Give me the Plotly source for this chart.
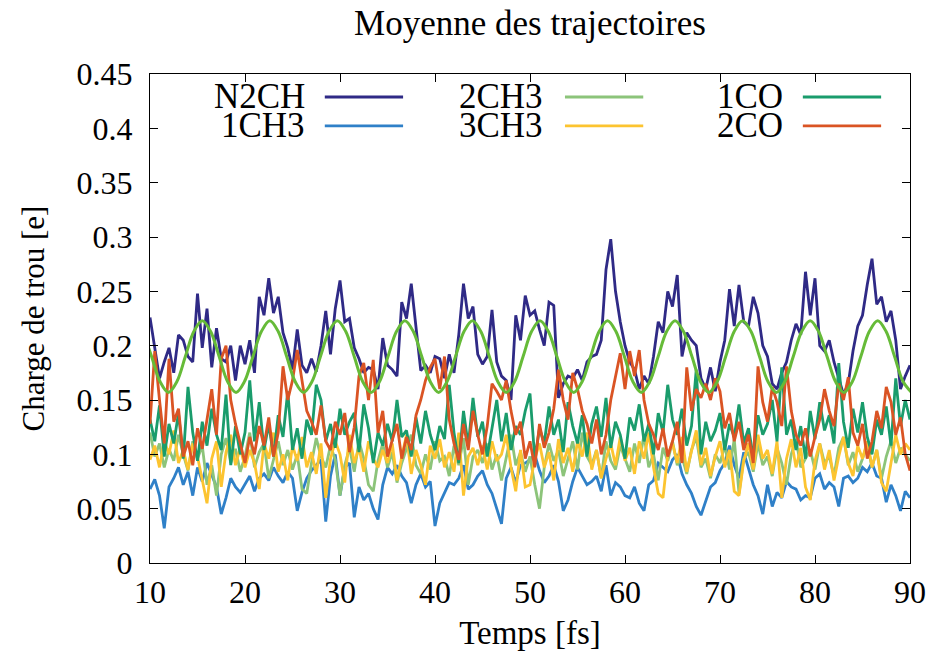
import numpy as np
import plotly.graph_objects as go

# time grid of the noisy curves: 10 -> 90 fs, step 0.5 fs (161 points)
t_start, t_step = 10.0, 0.5

# hole charges in units of 1e-3 e, one row = 5 fs
n2ch = [
    226, 200, 170, 185, 198, 175, 210, 205, 190, 185,
    248, 198, 234, 180, 216, 188, 185, 200, 168, 200,
    183, 205, 175, 245, 228, 262, 230, 245, 212, 198,
    178, 215, 182, 175, 188, 176, 200, 232, 192, 234,
    260, 222, 225, 198, 188, 175, 180, 178, 160, 207,
    182, 178, 172, 240, 225, 257, 215, 177, 182, 175,
    190, 188, 170, 192, 175, 210, 257, 225, 236, 192,
    183, 190, 233, 185, 172, 168, 150, 228, 205, 246,
    228, 232, 215, 200, 240, 237, 152, 165, 172, 170,
    178, 168, 185, 190, 192, 205, 270, 298, 250, 222,
    200, 185, 178, 160, 172, 165, 190, 222, 212, 250,
    236, 265, 190, 212, 205, 200, 170, 160, 180, 158,
    185, 205, 252, 218, 256, 222, 218, 245, 230, 200,
    190, 165, 160, 175, 185, 205, 220, 210, 268, 228,
    262, 200, 195, 205, 185, 170, 155, 165, 195, 218,
    228, 256, 280, 238, 245, 222, 232, 205, 160, 172,
    182,
]
ch3_1 = [
    68, 77, 62, 32, 70, 78, 88, 72, 84, 62,
    88, 75, 92, 80, 70, 45, 60, 78, 70, 65,
    72, 80, 66, 78, 82, 76, 88, 80, 74, 84,
    78, 48, 65, 78, 85, 90, 95, 38, 80, 100,
    62, 88, 92, 42, 70, 58, 64, 50, 40, 72,
    88, 82, 90, 80, 74, 55, 72, 82, 70, 75,
    34, 55, 64, 74, 72, 78, 90, 68, 72, 80,
    85, 72, 64, 50, 36, 78, 88, 74, 90, 92,
    95, 100, 85, 74, 80, 90, 75, 48, 58, 75,
    88, 80, 72, 75, 80, 66, 90, 62, 74, 70,
    62, 60, 70, 55, 48, 72, 76, 92, 88, 84,
    95, 100, 82, 72, 64, 52, 44, 56, 70, 74,
    85, 92, 108, 90, 78, 102, 88, 72, 62, 45,
    72, 52, 65, 60, 75, 70, 68, 58, 62, 60,
    78, 82, 68, 74, 70, 52, 78, 80, 74, 78,
    88, 84, 92, 80, 78, 56, 72, 62, 48, 66,
    60,
]
ch3_2 = [
    120, 98, 110, 88, 105, 94, 118, 100, 85, 112,
    96, 108, 72, 90, 62, 100, 115, 92, 105, 84,
    98, 120, 88, 102, 110, 78, 95, 112, 90, 104,
    86, 100, 68, 64, 92, 115, 98, 88, 108, 95,
    62, 90, 106, 84, 112, 96, 72, 66, 94, 110,
    88, 102, 74, 92, 105, 118, 90, 82, 100, 86,
    112, 94, 98, 80, 108, 90, 115, 72, 98, 104,
    92, 110, 86, 100, 76, 96, 118, 90, 102, 84,
    98, 72, 50, 88, 110, 94, 104, 80, 96, 112,
    86, 120, 98, 90, 104, 78, 112, 94, 86, 108,
    96, 84, 110, 92, 118, 88, 100, 76, 106, 94,
    112, 90, 98, 82, 104, 116, 88, 96, 78, 100,
    92, 108, 86, 114, 64, 96, 102, 84, 110, 90,
    98, 80, 106, 92, 72, 100, 114, 88, 96, 104,
    86, 110, 92, 98, 80, 106, 116, 90, 102, 84,
    96, 110, 88, 104, 78, 98, 112, 92, 106, 100,
    94,
]
ch3_3 = [
    95, 108, 88, 112, 100, 122, 92, 104, 86, 110,
    98, 78, 55, 96, 112, 70, 102, 118, 90, 106,
    88, 104, 92, 68, 110, 96, 120, 84, 100, 76,
    108, 94, 116, 88, 102, 82, 110, 60, 96, 112,
    100, 74, 118, 92, 106, 84, 112, 96, 88, 104,
    92, 110, 76, 98, 118, 82, 104, 90, 72, 108,
    96, 114, 88, 102, 84, 120, 62, 98, 106, 90,
    108, 86, 112, 94, 100, 118, 88, 66, 104, 70,
    72, 96, 110, 88, 102, 76, 114, 92, 106, 84,
    112, 98, 120, 86, 104, 78, 96, 110, 90, 116,
    94, 106, 82, 112, 96, 120, 88, 64, 60, 100,
    110, 92, 116, 84, 104, 122, 90, 106, 80, 98,
    112, 88, 104, 66, 62, 94, 110, 86, 118, 96,
    104, 82, 112, 60, 96, 114, 88, 106, 70, 58,
    94, 110, 86, 104, 76, 98, 116, 92, 80, 108,
    96, 112, 88, 104, 74, 66, 92, 118, 100, 110,
    104,
]
co_1 = [
    132, 112, 145, 98, 128, 110, 138, 96, 162, 120,
    94, 130, 108, 142, 118, 104, 155, 90, 126, 100,
    120, 168, 112, 148, 104, 128, 98, 136, 116, 158,
    104, 124, 96, 132, 118, 164, 150, 112, 128, 106,
    142, 118, 130, 138, 102, 146, 124, 92, 120, 108,
    128, 112, 150, 116, 122, 98, 134, 110, 140, 118,
    104, 126, 114, 164, 120, 92, 140, 108, 152, 116,
    130, 98, 124, 150, 112, 138, 104, 126, 118, 140,
    156, 96, 124, 110, 144, 118, 132, 102, 148, 126,
    110, 136, 98, 128, 144, 116, 152, 106, 130, 118,
    96, 134, 122, 146, 112, 128, 100, 138, 120, 164,
    132, 118, 142, 108, 126, 178, 100, 130, 112, 122,
    138, 104, 128, 116, 146, 110, 124, 98, 136, 118,
    128, 150, 112, 180, 118, 132, 104, 126, 96, 140,
    114, 148, 122, 136, 110, 184, 130, 106, 142, 120,
    148, 116, 100, 132, 118, 144, 108, 170, 126, 150,
    132,
]
co_2 = [
    128, 195, 150, 110, 188, 130, 142, 98, 112, 90,
    124, 105, 132, 160, 118, 188, 200, 150, 128, 110,
    92, 116, 100, 126, 108, 134, 98, 120, 181, 150,
    168, 196, 170, 140, 130, 118, 145, 112, 104, 130,
    118, 138, 102, 125, 172, 184, 150, 187, 120, 140,
    98, 112, 128, 96, 116, 104, 136, 150, 168, 180,
    188, 160, 190, 132, 110, 95, 128, 104, 140, 118,
    100, 126, 165, 158, 150, 168, 140, 118, 130, 96,
    112, 88, 128, 106, 120, 142, 178, 150, 132, 175,
    160, 140, 128, 110, 132, 100, 118, 150, 172, 193,
    160, 195, 172, 196, 150, 128, 118, 104, 124, 98,
    112, 130, 92, 180, 140, 160, 152, 165, 150, 170,
    158, 124, 138, 112, 130, 104, 118, 92, 181, 148,
    130, 162, 148, 126, 181, 140, 118, 108, 124, 98,
    116, 132, 160, 140, 126, 165, 150, 171, 120, 108,
    128, 96, 112, 140, 124, 162, 148, 118, 134, 100,
    85,
]

# smooth oscillating curve, read every eighth of its 7.11 fs period
wave_t0, wave_step = 15.5 - 7 * 7.11 / 8, 7.11 / 8
wave = [
    213, 190, 167, 157, 167, 190, 213, 223,
    213, 190, 167, 157, 167, 190, 213, 223,
    213, 190, 167, 157, 167, 190, 213, 223,
    213, 190, 167, 157, 167, 190, 213, 223,
    213, 190, 167, 157, 167, 190, 213, 223,
    213, 190, 167, 157, 167, 190, 213, 223,
    213, 190, 167, 157, 167, 190, 213, 223,
    213, 190, 167, 157, 167, 190, 213, 223,
    213, 190, 167, 157, 167, 190, 213, 223,
    213, 190, 167, 157, 167, 190, 213, 223,
    213, 190, 167, 157, 167, 190, 213, 223,
    213, 190, 167, 157,
]

series = [
    ("N2CH", n2ch, "#2f2a86"),
    ("1CH3", ch3_1, "#2f80c8"),
    ("2CH3", ch3_2, "#8cc47a"),
    ("3CH3", ch3_3, "#fcc430"),
    ("1CO", co_1, "#1a9c6c"),
    ("2CO", co_2, "#da5424"),
]
legend_order = ["N2CH", "2CH3", "1CO", "1CH3", "3CH3", "2CO"]

FONT = "Liberation Serif"

fig = go.Figure()
for name, vals, color in series:
    y = np.array(vals) / 1000
    t = t_start + t_step * np.arange(len(y))
    fig.add_trace(go.Scatter(x=t, y=y, name=name, mode="lines",
                             line={"color": color, "width": 2.8}, showlegend=False))

wy = np.array(wave) / 1000
wt = wave_t0 + wave_step * np.arange(len(wy))
fig.add_trace(go.Scatter(x=wt, y=wy, mode="lines", line={"color": "#66bb38", "width": 3, "shape": "spline"},
                         showlegend=False))

# gnuplot-like key: text on the left, line sample on the right
colors = {name: color for name, _, color in series}
text_x = [0.206, 0.52, 0.835]
line_x = [(0.230, 0.333), (0.546, 0.649), (0.859, 0.962)]
row_y = [0.953, 0.894]
for i, name in enumerate(legend_order):
    col, row = i % 3, i // 3
    fig.add_annotation(x=text_x[col], y=row_y[row], xref="paper", yref="paper", text=name,
                       showarrow=False, xanchor="right", yanchor="middle", height=27, valign="middle",
                       font={"family": FONT, "size": 35, "color": "black"})
    fig.add_shape(type="line", xref="paper", yref="paper", x0=line_x[col][0], x1=line_x[col][1],
                  y0=row_y[row], y1=row_y[row], line={"color": colors[name], "width": 2.8})

fig.update_layout(
    width=930, height=653,
    margin={"l": 150, "r": 20, "t": 74, "b": 90},
    plot_bgcolor="white", paper_bgcolor="white",
    font={"family": FONT, "size": 32, "color": "black"},
    title={"text": "Moyenne des trajectoires", "x": 0.5, "xref": "paper", "y": 0.965, "yanchor": "middle",
           "font": {"family": FONT, "size": 35}},
)
fig.update_xaxes(range=[10, 90], dtick=10, ticks="inside", ticklen=8, tickcolor="black",
                 showline=True, linecolor="black", linewidth=1.3, mirror="allticks", showgrid=False,
                 zeroline=False, automargin=False,
                 title={"text": "Temps [fs]", "standoff": 12, "font": {"size": 33}})
fig.update_yaxes(range=[0, 0.45], dtick=0.05, ticks="inside", ticklen=8, tickcolor="black",
                 showline=True, linecolor="black", linewidth=1.3, mirror="allticks", showgrid=False,
                 zeroline=False, ticklabelstandoff=10, automargin=False,
                 title={"text": "Charge de trou [e]", "standoff": 22, "font": {"size": 31}})

# the page's default 8 px body margin would push the figure off the window
fig.write_html("out.html", config={"displayModeBar": False},
               post_script="document.body.style.margin = '0px';")
